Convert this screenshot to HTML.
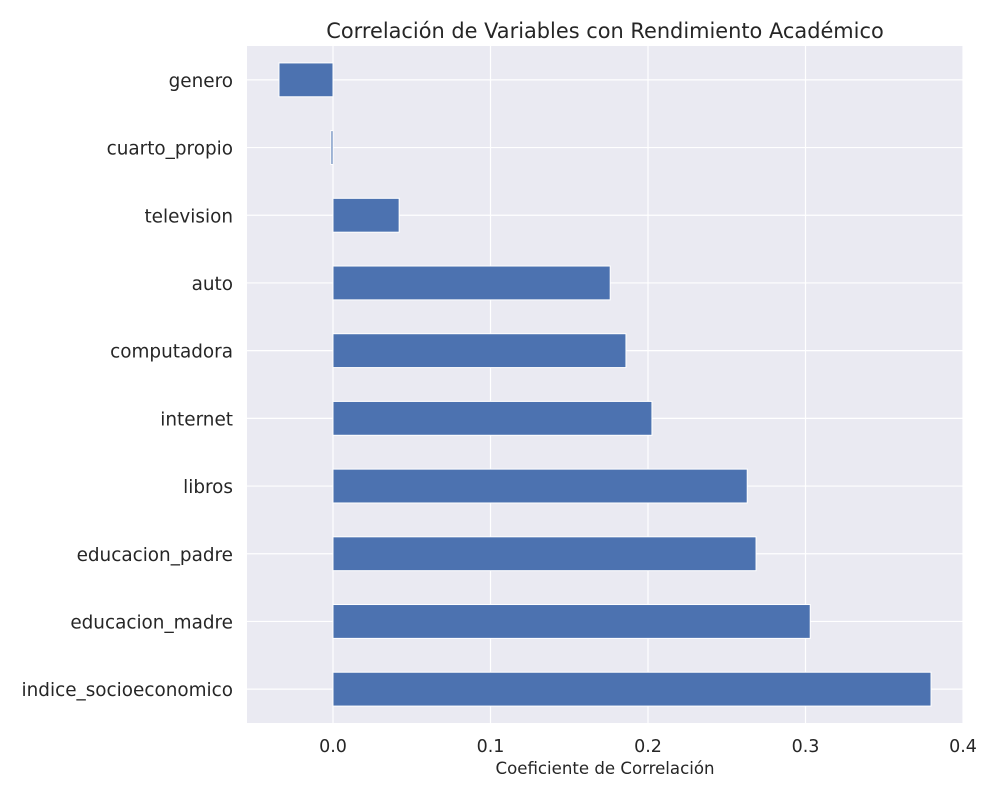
<!DOCTYPE html>
<html>
<head>
<meta charset="utf-8">
<style>
  html,body{margin:0;padding:0;background:#fff;}
  svg{display:block;font-family:"DejaVu Sans","Liberation Sans",sans-serif;}
</style>
</head>
<body>
<svg id="chart" width="1000" height="800"></svg>
<script>
const categories = ["indice_socioeconomico","educacion_madre","educacion_padre","libros","internet","computadora","auto","television","cuarto_propio","genero"];
const values = [0.3797, 0.3030, 0.2686, 0.2630, 0.2025, 0.1860, 0.1760, 0.0420, -0.0013, -0.0343];
const xTicks = [0.0, 0.1, 0.2, 0.3, 0.4];
const xTickLabels = ["0.0","0.1","0.2","0.3","0.4"];

const NS = "http://www.w3.org/2000/svg";
const svg = document.getElementById("chart");
const L = 247, R = 963, T = 46, B = 723;
const xMin = -0.0546, xMax = 0.4;
const x = v => L + (v - xMin) / (xMax - xMin) * (R - L);
const yStep = (B - T) / categories.length;
const y = i => B - (i + 0.5) * yStep;

function mk(tag, attrs, parent) {
  const e = document.createElementNS(NS, tag);
  for (const k in attrs) e.setAttribute(k, attrs[k]);
  (parent || svg).appendChild(e);
  return e;
}

const bg = mk("rect", {x: L, y: T, width: R - L, height: B - T, fill: "#eaeaf2"});



xTicks.forEach((t, i) => {
  const g = mk("line", {x1: x(t), x2: x(t), y1: T, y2: B, stroke: "#fff", "stroke-width": 1.2});
  
  
  const lab = mk("text", {x: x(t), y: B + 29, "text-anchor": "middle", "font-size": 17.5, fill: "#262626"});
  lab.textContent = xTickLabels[i];
  
  
});
categories.forEach((c, i) => {
  const g = mk("line", {x1: L, x2: R, y1: y(i), y2: y(i), stroke: "#fff", "stroke-width": 1.2});
  
  
});
categories.forEach((c, i) => {
  const v = values[i];
  const x0 = Math.min(x(0), x(v)), w = Math.abs(x(v) - x(0));
  const h = yStep * 0.5;
  const r = mk("rect", {x: x0, y: y(i) - h / 2, width: Math.max(w, 0.5), height: h, fill: "#4c72b0", stroke: "#fff", "stroke-width": 1});
  
  
  const lab = mk("text", {x: L - 14, y: y(i) + 7, "text-anchor": "end", "font-size": 18.4, fill: "#262626"});
  lab.textContent = c;
  
  
});

const title = mk("text", {x: (L + R) / 2, y: 38, "text-anchor": "middle", "font-size": 20.9, fill: "#262626"});
title.textContent = "Correlación de Variables con Rendimiento Académico";



const xl = mk("text", {x: (L + R) / 2, y: 774, "text-anchor": "middle", "font-size": 16.6, fill: "#262626"});
xl.textContent = "Coeficiente de Correlación";


</script>
</body>
</html>
